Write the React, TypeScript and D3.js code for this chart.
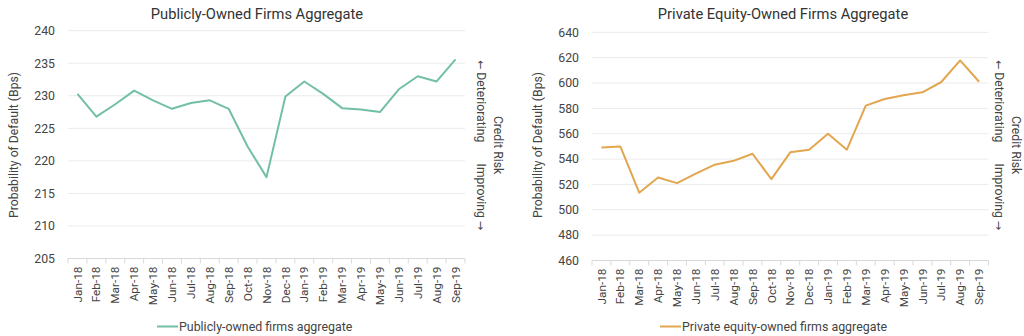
import React from "react";
import * as d3 from "d3";

const months = ["Jan-18","Feb-18","Mar-18","Apr-18","May-18","Jun-18","Jul-18","Aug-18","Sep-18","Oct-18","Nov-18","Dec-18","Jan-19","Feb-19","Mar-19","Apr-19","May-19","Jun-19","Jul-19","Aug-19","Sep-19"];
const publicValues = [230.3,226.8,228.7,230.8,229.3,228.0,228.9,229.3,228.0,222.2,217.5,229.9,232.2,230.3,228.1,227.9,227.5,231.0,233.0,232.2,235.6];
const privateValues = [549.2,550.0,513.5,525.5,521.0,528.5,535.6,538.6,544.2,524.2,545.3,547.4,560.0,547.4,582.2,587.4,590.4,592.7,600.8,617.8,601.0];
const publicTicks = [205,210,215,220,225,230,235,240];
const privateTicks = [460,480,500,520,540,560,580,600,620,640];

const FONT = "Roboto, 'Noto Sans', sans-serif";

type ChartProps = {
  title: string;
  legend: string;
  values: number[];
  ticks: number[];
  color: string;
  x0: number; x1: number; yTop: number; yBottom: number;
  titleX: number; yTitleX: number; arrowX: number; riskX: number;
  legendX: number;
};

function Chart(p: ChartProps) {
  const x = d3.scaleBand<string>().domain(months).range([p.x0, p.x1]);
  const y = d3.scaleLinear().domain([p.ticks[0], p.ticks[p.ticks.length - 1]]).range([p.yBottom, p.yTop]);
  const line = d3.line<number>().x((_, i) => (x(months[i]) as number) + x.bandwidth() / 2).y(d => y(d));
  const midY = 145;
  return (
    <g fontFamily={FONT}>
      <text x={p.titleX} y={19} textAnchor="middle" fontSize={14.7} fill="#333">{p.title}</text>
      {p.ticks.map(t => (
        <g key={t}>
          <line x1={p.x0} x2={p.x1} y1={y(t)} y2={y(t)} stroke={t === p.ticks[0] ? "#d9d9d9" : "#ebebeb"} strokeWidth={1} />
          <text x={p.x0 - 13} y={y(t)} dy="0.35em" textAnchor="end" fontSize={12.3} fill="#444">{t}</text>
        </g>
      ))}
      {d3.range(months.length + 1).map(i => {
        const xx = p.x0 + i * x.step();
        return <line key={i} x1={xx} x2={xx} y1={p.yBottom} y2={p.yBottom + 5} stroke="#d9d9d9" />;
      })}
      {months.map(m => (
        <text key={m} transform={`translate(${(x(m) as number) + x.bandwidth() / 2},${p.yBottom + 8}) rotate(-90)`}
          textAnchor="end" dy="0.35em" fontSize={11.8} fill="#444">{m}</text>
      ))}
      <text transform={`translate(${p.yTitleX},${midY}) rotate(-90)`} textAnchor="middle" dy="0.35em" fontSize={12.2} fill="#444">Probability of Default (Bps)</text>
      <text transform={`translate(${p.arrowX},${60}) rotate(90)`} textAnchor="start" dy="0.35em" fontSize={12.2} fill="#444">
        <tspan fontFamily="'DejaVu Sans', sans-serif" fontSize={11}>{"\u2190"}</tspan>{" Deteriorating"}
      </text>
      <text transform={`translate(${p.arrowX},${230}) rotate(90)`} textAnchor="end" dy="0.35em" fontSize={12.2} fill="#444">
        {"Improving "}<tspan fontFamily="'DejaVu Sans', sans-serif" fontSize={11}>{"\u2192"}</tspan>
      </text>
      <text transform={`translate(${p.riskX},${midY}) rotate(90)`} textAnchor="middle" dy="0.35em" fontSize={12.2} fill="#444">Credit Risk</text>
      <path d={line(p.values) || ""} fill="none" stroke={p.color} strokeWidth={2} strokeLinejoin="round" />
      <line x1={p.legendX} x2={p.legendX + 21} y1={326.5} y2={326.5} stroke={p.color} strokeWidth={2} />
      <text x={p.legendX + 22} y={326.5} dy="0.35em" fontSize={12.4} fill="#444">{p.legend}</text>
    </g>
  );
}

export default function App() {
  return (
    <svg width={1024} height={336} style={{ position: "absolute", left: 0, top: 0, background: "#fff" }}>
      <rect width={1024} height={336} fill="#fff" />
      <Chart title="Publicly-Owned Firms Aggregate" legend="Publicly-owned firms aggregate" values={publicValues}
        ticks={publicTicks} color="#72bfa7" x0={68} x1={465} yTop={30.7} yBottom={258.5}
        titleX={257} yTitleX={14} arrowX={481} riskX={498} legendX={157} />
      <Chart title="Private Equity-Owned Firms Aggregate" legend="Private equity-owned firms aggregate" values={privateValues}
        ticks={privateTicks} color="#e2a64f" x0={592} x1={988.5} yTop={32.3} yBottom={260.5}
        titleX={783} yTitleX={538} arrowX={999} riskX={1016} legendX={660} />
    </svg>
  );
}
